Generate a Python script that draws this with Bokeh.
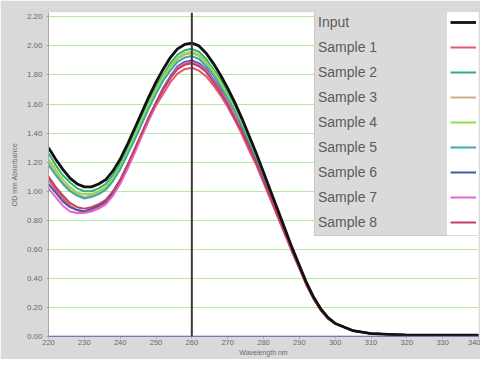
from bokeh.plotting import figure
from bokeh.models import (Legend, LegendItem, Span, Range1d, FixedTicker,
                          NumeralTickFormatter)
from bokeh.embed import file_html
from bokeh.resources import INLINE

# ---------------- data ----------------
wavelength = [220, 222, 224, 226, 228, 230, 232, 234, 236, 238, 240, 242, 244, 246, 248,
              250, 252, 254, 256, 258, 260, 262, 264, 266, 268, 270, 272, 274, 276, 278,
              280, 282, 284, 286, 288, 290, 292, 294, 296, 298, 300, 305, 310, 320, 330, 340]

tail = [0.04, 0.02, 0.01, 0.01, 0.01]

input_ = [1.30, 1.22, 1.15, 1.09, 1.05, 1.03, 1.03, 1.05, 1.08, 1.14, 1.22, 1.32, 1.43, 1.54, 1.65,
          1.75, 1.84, 1.92, 1.98, 2.01, 2.02, 2.00, 1.95, 1.88, 1.80, 1.71, 1.61, 1.50, 1.38, 1.26,
          1.13, 1.00, 0.87, 0.74, 0.61, 0.49, 0.37, 0.27, 0.19, 0.13, 0.09] + tail
sample1 = [1.08, 1.01, 0.95, 0.90, 0.87, 0.86, 0.87, 0.89, 0.92, 0.98, 1.06, 1.16, 1.27, 1.38, 1.49,
           1.59, 1.67, 1.75, 1.81, 1.84, 1.85, 1.83, 1.79, 1.73, 1.66, 1.58, 1.49, 1.39, 1.28, 1.18,
           1.06, 0.94, 0.82, 0.70, 0.58, 0.47, 0.35, 0.26, 0.18, 0.12, 0.09] + tail
sample2 = [1.26, 1.18, 1.11, 1.06, 1.02, 1.00, 1.00, 1.02, 1.05, 1.11, 1.19, 1.29, 1.40, 1.51, 1.62,
           1.72, 1.80, 1.88, 1.94, 1.97, 1.98, 1.96, 1.91, 1.84, 1.77, 1.68, 1.58, 1.48, 1.36, 1.24,
           1.12, 0.99, 0.86, 0.73, 0.60, 0.48, 0.37, 0.27, 0.19, 0.13, 0.09] + tail
sample3 = [1.20, 1.13, 1.06, 1.01, 0.98, 0.96, 0.97, 0.99, 1.02, 1.08, 1.16, 1.26, 1.37, 1.48, 1.59,
           1.69, 1.78, 1.85, 1.91, 1.94, 1.95, 1.93, 1.88, 1.82, 1.74, 1.65, 1.56, 1.45, 1.34, 1.22,
           1.10, 0.97, 0.85, 0.72, 0.60, 0.48, 0.36, 0.27, 0.19, 0.13, 0.09] + tail
sample4 = [1.22, 1.15, 1.08, 1.03, 0.99, 0.98, 0.98, 1.00, 1.03, 1.09, 1.17, 1.27, 1.38, 1.49, 1.60,
           1.70, 1.79, 1.86, 1.92, 1.95, 1.96, 1.94, 1.89, 1.83, 1.75, 1.66, 1.57, 1.46, 1.35, 1.23,
           1.10, 0.98, 0.85, 0.73, 0.60, 0.48, 0.37, 0.27, 0.19, 0.13, 0.09] + tail
sample5 = [1.18, 1.11, 1.05, 1.00, 0.97, 0.95, 0.96, 0.98, 1.01, 1.07, 1.15, 1.25, 1.35, 1.46, 1.57,
           1.67, 1.76, 1.83, 1.89, 1.92, 1.93, 1.91, 1.86, 1.80, 1.72, 1.64, 1.55, 1.44, 1.33, 1.21,
           1.09, 0.97, 0.84, 0.72, 0.59, 0.48, 0.36, 0.26, 0.19, 0.13, 0.09] + tail
sample6 = [1.05, 0.99, 0.93, 0.89, 0.87, 0.86, 0.88, 0.90, 0.93, 0.99, 1.07, 1.17, 1.28, 1.39, 1.51,
           1.61, 1.71, 1.79, 1.86, 1.89, 1.90, 1.88, 1.84, 1.77, 1.70, 1.61, 1.52, 1.42, 1.31, 1.20,
           1.08, 0.96, 0.83, 0.71, 0.59, 0.47, 0.36, 0.26, 0.18, 0.13, 0.09] + tail
sample7 = [1.02, 0.96, 0.90, 0.86, 0.85, 0.85, 0.86, 0.88, 0.91, 0.97, 1.05, 1.15, 1.26, 1.38, 1.49,
           1.60, 1.70, 1.78, 1.85, 1.88, 1.89, 1.87, 1.83, 1.76, 1.69, 1.61, 1.52, 1.41, 1.30, 1.19,
           1.07, 0.95, 0.83, 0.71, 0.58, 0.47, 0.36, 0.26, 0.18, 0.13, 0.09] + tail
sample8 = [1.10, 1.03, 0.97, 0.92, 0.89, 0.88, 0.89, 0.91, 0.94, 1.00, 1.08, 1.18, 1.29, 1.40, 1.51,
           1.61, 1.70, 1.78, 1.84, 1.87, 1.88, 1.86, 1.82, 1.75, 1.68, 1.60, 1.50, 1.41, 1.30, 1.19,
           1.07, 0.95, 0.83, 0.71, 0.59, 0.47, 0.36, 0.26, 0.18, 0.13, 0.09] + tail

series_names = ["Input", "Sample 1", "Sample 2", "Sample 3", "Sample 4",
                "Sample 5", "Sample 6", "Sample 7", "Sample 8"]
series_values = [input_, sample1, sample2, sample3, sample4,
                 sample5, sample6, sample7, sample8]
series_colors = ["#111111", "#e8566e", "#2fae78", "#c9b080", "#92dc4c",
                 "#3faaa6", "#4a56ae", "#e866c8", "#c0405e"]

y_ticks = [0.0, 0.2, 0.4, 0.6, 0.8, 1.0, 1.2, 1.4, 1.6, 1.8, 2.0, 2.2]
x_ticks = [220, 230, 240, 250, 260, 270, 280, 290, 300, 310, 320, 330, 340]
marker_wavelength = 260
baseline_value = 0.0

# ---------------- figure ----------------
p = figure(width=480, height=359, output_backend="svg", toolbar_location=None,
           x_range=Range1d(220, 340), y_range=Range1d(0, 2.23),
           min_border_left=48, min_border_right=2, min_border_top=12, min_border_bottom=23)
p.border_fill_color = "#d9d9d9"
p.background_fill_color = "white"
p.outline_line_color = None

renderers = {}
order = list(range(1, 9)) + [0]      # samples first, Input on top
for i in order:
    r = p.line(wavelength, series_values[i], line_color=series_colors[i],
               line_width=2.8 if i == 0 else 2.0, line_join="round")
    renderers[i] = r

p.add_layout(Span(location=marker_wavelength, dimension="height",
                  line_color="#3a3a3a", line_width=2))
p.add_layout(Span(location=baseline_value, dimension="width",
                  line_color="#3a55c8", line_width=1.5))

# grid
p.xgrid.grid_line_color = None
p.ygrid.grid_line_color = "#b8e6a8"
p.ygrid.grid_line_width = 1
p.ygrid.ticker = FixedTicker(ticks=y_ticks)

# axes
p.yaxis.ticker = FixedTicker(ticks=y_ticks)
p.xaxis.ticker = FixedTicker(ticks=x_ticks)
p.yaxis.formatter = NumeralTickFormatter(format="0.00")
for ax in (p.xaxis[0], p.yaxis[0]):
    ax.axis_line_color = "#a8a8a8"
    ax.major_tick_line_color = "#a8a8a8"
    ax.minor_tick_line_color = None
    ax.major_tick_in = 0
    ax.major_tick_out = 2
    ax.major_label_text_font = "Liberation Sans"
    ax.major_label_text_color = "#6a6a6a"
    ax.major_label_standoff = 1
    ax.axis_label_text_font = "Liberation Sans"
    ax.axis_label_text_font_size = "7px"
    ax.axis_label_text_font_style = "normal"
    ax.axis_label_text_color = "#6a6a6a"
    ax.axis_label_standoff = 1
p.yaxis.major_label_text_font_size = "8px"
p.xaxis.major_label_text_font_size = "7.5px"
p.yaxis.major_label_standoff = 4
p.xaxis.axis_label = "Wavelength nm"
p.yaxis.axis_label = "OD mm Absorbance"
p.yaxis.axis_label_standoff = 6

# legend: grey label box + white glyph strip on its right
label_items = [LegendItem(label=series_names[i], renderers=[renderers[i]]) for i in range(9)]
glyph_items = [LegendItem(label=" ", renderers=[renderers[i]]) for i in range(9)]

common = dict(label_height=20, glyph_height=20, spacing=5, padding=3, margin=0,
              label_text_font="Liberation Sans", label_text_font_size="14px",
              label_text_color="#5c5c5c", border_line_color="#b8b8b8", border_line_width=1)

legend_labels = Legend(items=label_items, location=(266, 100), glyph_width=0,
                       label_standoff=0, label_width=126,
                       background_fill_color="#dadada", background_fill_alpha=1.0, **common)
legend_glyphs = Legend(items=glyph_items, location=(398, 100), glyph_width=26,
                       label_standoff=0, label_width=0,
                       background_fill_color="white", background_fill_alpha=1.0, **common)
p.add_layout(legend_labels)
p.add_layout(legend_glyphs)

open("out.html", "w").write(file_html(p, INLINE))
